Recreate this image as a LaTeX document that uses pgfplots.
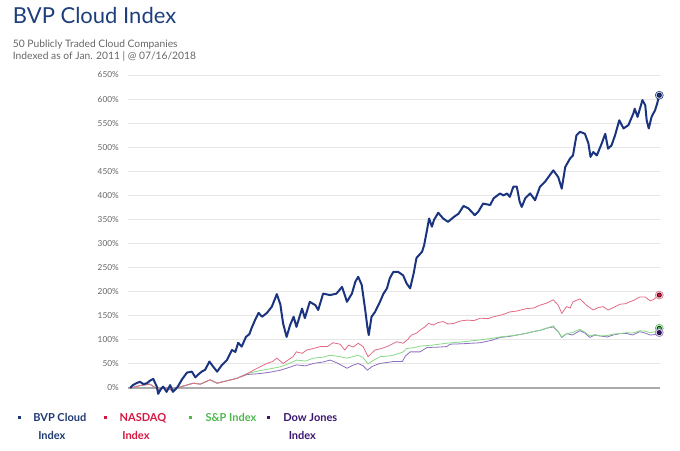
\documentclass[border=0pt]{standalone}
\usepackage{fontspec}
\setmainfont{Lato}
\usepackage{pgfplots}
\pgfplotsset{compat=1.18}
\definecolor{bvp}{HTML}{1A3480}
\definecolor{bvpt}{HTML}{1F3A73}
\definecolor{nas}{HTML}{E26A84}
\definecolor{nasm}{HTML}{D3173F}
\definecolor{sp}{HTML}{86DA86}
\definecolor{spm}{HTML}{4DB84D}
\definecolor{dow}{HTML}{8C6FBF}
\definecolor{dowm}{HTML}{3A1570}
\definecolor{titleblue}{HTML}{1E3F7B}
\definecolor{subgray}{HTML}{666666}
\definecolor{gridc}{HTML}{E6E6E6}
\definecolor{zeroc}{HTML}{ABABAB}
\begin{document}
\begin{tikzpicture}
\useasboundingbox (0,0) rectangle (510pt,337.5pt);
\node[anchor=base west, font=\fontsize{16.5}{18}\selectfont, text=titleblue, inner sep=0pt] at (9.5pt,319.5pt) {BVP Cloud Index};
\node[anchor=base west, font=\fontsize{7.7}{9}\selectfont, text=subgray, inner sep=0pt] at (9.5pt,302pt) {50 Publicly Traded Cloud Companies};
\node[anchor=base west, font=\fontsize{7.7}{9}\selectfont, text=subgray, inner sep=0pt] at (9.5pt,293pt) {Indexed as of Jan. 2011 | @ 07/16/2018};
\begin{axis}[
  at={(96pt,46.5pt)}, anchor=south west,
  scale only axis, width=399pt, height=234.75pt,
  xmin=2010.97, xmax=2018.55, ymin=0, ymax=650,
  clip=false,
  axis line style={draw=none},
  major tick length=0pt,
  xtick=\empty,
  ytick={0,50,...,650},
  /pgf/number format/assume math mode=true,
  yticklabel={\pgfmathprintnumber{\tick}\%},
  yticklabel style={font=\fontsize{6.2}{7}\selectfont, text=subgray, inner sep=0pt, xshift=-6.75pt},
  ymajorgrids,
  grid style={color=gridc, line width=0.75pt},
  extra y ticks={0},
  extra y tick labels={},
  extra y tick style={grid style={color=zeroc, line width=1.3pt}},
  legend columns=4,
  legend style={at={(-0.2071,-0.0703)}, anchor=north west, draw=none, fill=none, inner sep=0pt,
    font=\fontsize{8.25}{13.5}\selectfont\bfseries,
    cells={anchor=north west}},
]
% Dow Jones
\addplot[dow, line width=0.6pt, forget plot] coordinates {
(2011.00,0)(2011.14,5)(2011.28,8)(2011.40,-3)(2011.50,0)(2011.60,-5)(2011.71,2)(2011.90,10)(2012.00,8)(2012.14,17)(2012.24,10)(2012.35,14)(2012.52,20)(2012.67,28)
(2012.85,30)(2013.00,33)(2013.14,37)(2013.25,42)(2013.37,48)(2013.50,46)(2013.61,51)(2013.75,54)(2013.85,58)(2013.95,52)(2014.09,41)(2014.17,47)(2014.25,51)(2014.32,46)(2014.38,37)(2014.45,45)(2014.56,51)(2014.66,53)(2014.75,55)(2014.88,55)(2014.92,66)(2014.99,75)(2015.13,75)(2015.23,84)(2015.40,85)(2015.51,86)(2015.56,91)(2015.75,92)(2015.99,94)(2016.15,99)(2016.27,105)(2016.40,107)(2016.51,110)(2016.63,113)(2016.74,117)(2016.85,120)(2016.93,124)(2017.03,127)(2017.10,117)(2017.15,105)(2017.22,113)(2017.30,110)(2017.41,119)(2017.48,114)(2017.55,105)(2017.62,110)(2017.70,108)(2017.80,106)(2017.88,110)(2017.98,113)(2018.08,113)(2018.16,110)(2018.26,117)(2018.34,114)(2018.41,110)(2018.48,111)(2018.54,115)};
% S&P
\addplot[sp, line width=0.6pt, forget plot] coordinates {
(2011.00,0)(2011.14,5)(2011.28,8)(2011.40,-3)(2011.50,0)(2011.60,-5)(2011.71,2)(2011.90,10)(2012.00,8)(2012.14,17)(2012.24,10)(2012.35,14)(2012.52,20)(2012.67,30)
(2012.85,36)(2013.00,40)(2013.14,44)(2013.25,50)(2013.37,58)(2013.50,56)(2013.61,62)(2013.75,64)(2013.85,68)(2013.95,66)(2014.09,62)(2014.17,65)(2014.25,68)(2014.32,63)(2014.39,50)(2014.46,57)(2014.56,65)(2014.66,66)(2014.75,68)(2014.89,75)(2014.94,82)(2015.05,84)(2015.13,87)(2015.30,89)(2015.51,93)(2015.75,96)(2015.99,100)(2016.15,103)(2016.27,106)(2016.40,108)(2016.51,110)(2016.63,113)(2016.74,117)(2016.85,120)(2016.93,124)(2017.03,129)(2017.10,117)(2017.15,106)(2017.22,113)(2017.30,115)(2017.41,122)(2017.48,116)(2017.55,108)(2017.62,111)(2017.70,108)(2017.80,109)(2017.88,112)(2017.98,113)(2018.08,115)(2018.16,114)(2018.26,119)(2018.34,118)(2018.41,115)(2018.48,117)(2018.54,124)};
% NASDAQ
\addplot[nas, line width=0.6pt, forget plot] coordinates {
(2011.00,0)(2011.14,5)(2011.28,8)(2011.40,-3)(2011.50,0)(2011.60,-5)(2011.71,2)(2011.90,10)(2012.00,8)(2012.14,17)(2012.24,10)(2012.35,14)(2012.52,20)(2012.67,30)
(2012.81,41)(2012.95,51)(2013.03,55)(2013.09,62)(2013.18,51)(2013.25,58)(2013.32,65)(2013.37,75)(2013.45,72)(2013.52,79)(2013.61,82)(2013.71,86)(2013.81,86)(2013.89,94)(2013.99,91)(2014.06,79)(2014.11,89)(2014.18,85)(2014.25,93)(2014.32,86)(2014.39,65)(2014.44,72)(2014.49,79)(2014.58,82)(2014.66,86)(2014.80,96)(2014.89,93)(2014.95,100)(2015.01,110)(2015.08,114)(2015.13,120)(2015.20,127)(2015.25,134)(2015.32,131)(2015.39,136)(2015.46,138)(2015.53,133)(2015.61,134)(2015.70,139)(2015.80,141)(2015.90,140)(2015.99,145)(2016.10,144)(2016.18,148)(2016.30,152)(2016.41,158)(2016.52,160)(2016.65,165)(2016.75,166)(2016.84,172)(2016.93,176)(2017.03,183)(2017.10,172)(2017.15,155)(2017.22,169)(2017.27,166)(2017.31,179)(2017.41,185)(2017.46,178)(2017.50,172)(2017.60,162)(2017.67,167)(2017.74,169)(2017.81,162)(2017.90,168)(2017.98,174)(2018.06,175)(2018.12,179)(2018.19,183)(2018.26,189)(2018.34,189)(2018.41,181)(2018.46,184)(2018.50,189)(2018.54,193)};
% BVP Cloud
\addplot[bvp, line width=1.5pt, line join=round, forget plot] coordinates {
(2011.00,0)(2011.04,6)(2011.09,10)(2011.14,13)(2011.19,8)(2011.24,10)(2011.29,16)(2011.33,19)(2011.38,3)(2011.40,-12)(2011.44,-2)(2011.47,3)(2011.52,-8)(2011.57,6)(2011.61,-8)(2011.65,-2)(2011.68,3)(2011.74,18)(2011.81,32)(2011.88,34)(2011.93,22)(2011.97,28)(2012.02,34)(2012.07,38)(2012.13,55)(2012.18,45)(2012.24,34)(2012.31,48)(2012.38,58)(2012.45,79)(2012.50,75)(2012.54,94)(2012.59,86)(2012.65,106)(2012.70,112)(2012.73,124)(2012.78,141)(2012.83,156)(2012.88,148)(2012.95,156)(2013.02,169)(2013.09,195)(2013.14,174)(2013.18,134)(2013.23,106)(2013.28,131)(2013.33,148)(2013.37,127)(2013.45,165)(2013.49,145)(2013.56,179)(2013.64,172)(2013.68,162)(2013.75,196)(2013.85,193)(2013.94,196)(2014.02,210)(2014.09,179)(2014.16,196)(2014.21,221)(2014.25,231)(2014.30,214)(2014.35,162)(2014.38,127)(2014.40,110)(2014.44,148)(2014.49,158)(2014.56,179)(2014.61,196)(2014.66,207)(2014.70,228)(2014.75,241)(2014.82,241)(2014.89,234)(2014.94,217)(2014.99,207)(2015.04,238)(2015.08,270)(2015.16,283)(2015.19,297)(2015.23,328)(2015.26,352)(2015.30,335)(2015.33,349)(2015.39,364)(2015.46,352)(2015.53,345)(2015.61,355)(2015.68,362)(2015.75,378)(2015.82,373)(2015.91,359)(2015.96,366)(2016.03,383)(2016.13,380)(2016.18,394)(2016.27,404)(2016.32,400)(2016.37,404)(2016.41,397)(2016.46,418)(2016.51,418)(2016.55,387)(2016.58,376)(2016.63,394)(2016.70,404)(2016.77,390)(2016.84,418)(2016.91,428)(2016.98,442)(2017.03,452)(2017.10,438)(2017.15,414)(2017.20,459)(2017.27,477)(2017.31,483)(2017.36,525)(2017.41,532)(2017.48,528)(2017.53,508)(2017.56,480)(2017.60,490)(2017.65,483)(2017.72,508)(2017.77,528)(2017.81,497)(2017.86,504)(2017.91,525)(2017.97,556)(2018.03,539)(2018.10,546)(2018.17,570)(2018.19,580)(2018.23,563)(2018.30,598)(2018.34,587)(2018.36,556)(2018.39,539)(2018.43,563)(2018.48,577)(2018.51,591)(2018.54,608)};
% end markers
\addplot[only marks, mark=*, mark size=3pt, mark options={fill=sp!40, draw=spm, line width=0.4pt}, forget plot] coordinates {(2018.54,124)};
\addplot[only marks, mark=*, mark size=1.6pt, mark options={fill=spm, draw=none}, forget plot] coordinates {(2018.54,124)};
\addplot[only marks, mark=*, mark size=3pt, mark options={fill=dow!25, draw=dow, line width=0.4pt}, forget plot] coordinates {(2018.54,115)};
\addplot[only marks, mark=*, mark size=1.6pt, mark options={fill=dowm, draw=none}, forget plot] coordinates {(2018.54,115)};
\addplot[only marks, mark=*, mark size=3pt, mark options={fill=nas!30, draw=nas, line width=0.4pt}, forget plot] coordinates {(2018.54,193)};
\addplot[only marks, mark=*, mark size=1.6pt, mark options={fill=nasm, draw=none}, forget plot] coordinates {(2018.54,193)};
\addplot[only marks, mark=*, mark size=3pt, mark options={fill=bvp!20, draw=bvp, line width=0.4pt}, forget plot] coordinates {(2018.54,608)};
\addplot[only marks, mark=*, mark size=1.6pt, mark options={fill=bvp, draw=none}, forget plot] coordinates {(2018.54,608)};
% legend
\addlegendimage{legend image code/.code={\path[draw=none] (0pt,0pt) -- (9.4pt,0pt); \fill[bvpt,draw=none] (0pt,-6.85pt) rectangle (2.25pt,-4.6pt);}}
\addlegendentry{\parbox[t]{51.4pt}{\color{bvpt}BVP Cloud\\\hspace*{3.75pt}Index}}
\addlegendimage{legend image code/.code={\path[draw=none] (0pt,0pt) -- (9.4pt,0pt); \fill[nasm,draw=none] (0pt,-6.85pt) rectangle (2.25pt,-4.6pt);}}
\addlegendentry{\parbox[t]{50.1pt}{\color{nasm}NASDAQ\\\hspace*{2pt}Index}}
\addlegendimage{legend image code/.code={\path[draw=none] (0pt,0pt) -- (10.4pt,0pt); \fill[spm,draw=none] (0pt,-6.85pt) rectangle (2.25pt,-4.6pt);}}
\addlegendentry{\parbox[t]{43.9pt}{\color{spm}S\&P Index}}
\addlegendimage{legend image code/.code={\path[draw=none] (0pt,0pt) -- (10.4pt,0pt); \fill[dowm,draw=none] (0pt,-6.85pt) rectangle (2.25pt,-4.6pt);}}
\addlegendentry{\parbox[t]{55pt}{\color{dowm}Dow Jones\\\hspace*{4pt}Index}}
\end{axis}
\end{tikzpicture}
\end{document}
